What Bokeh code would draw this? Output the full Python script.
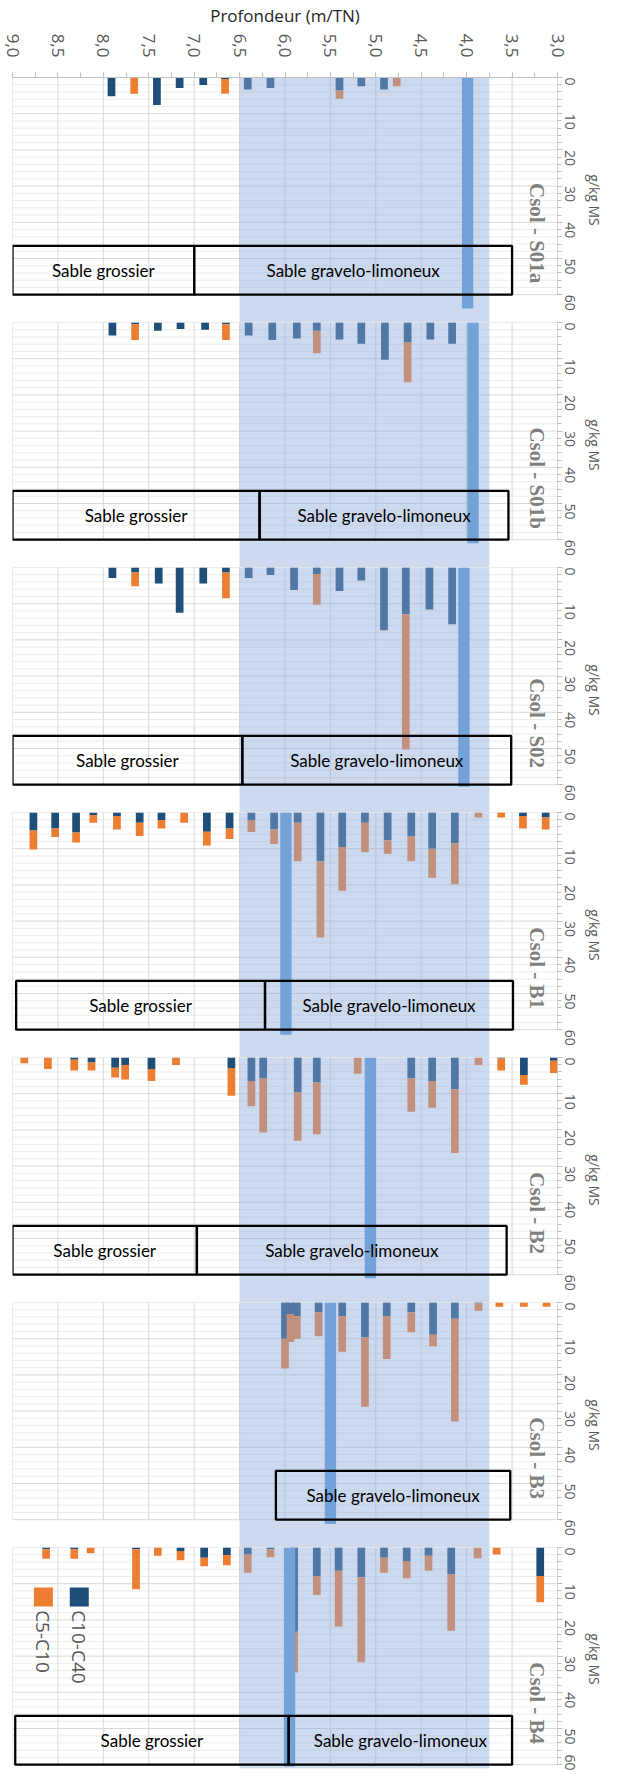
import math
from bokeh.plotting import figure
from bokeh.layouts import column
from bokeh.models import Range1d, FixedTicker, ColumnDataSource
from bokeh.core.properties import value
from bokeh.embed import file_html
from bokeh.resources import INLINE

# ---------------- data ----------------
panel_names = ["Csol - S01a", "Csol - S01b", "Csol - S02", "Csol - B1",
               "Csol - B2", "Csol - B3", "Csol - B4"]
depth_ticks = [9.0, 8.5, 8.0, 7.5, 7.0, 6.5, 6.0, 5.5, 5.0, 4.5, 4.0, 3.5, 3.0]
depth_tick_labels = ["9,0", "8,5", "8,0", "7,5", "7,0", "6,5", "6,0",
                     "5,5", "5,0", "4,5", "4,0", "3,5", "3,0"]
conc_ticks = [0, 10, 20, 30, 40, 50, 60]
conc_tick_labels = ["0", "10", "20", "30", "40", "50", "60"]
series_names = ["C5-C10", "C10-C40"]

s01a_depth = [7.91, 7.66, 7.41, 7.16, 6.90, 6.66, 6.41, 6.16, 5.40, 5.16, 4.91, 4.77]
s01a_c10c40 = [5.2, 0.0, 7.6, 2.9, 2.1, 0.4, 3.3, 2.9, 3.6, 2.4, 3.3, 0.0]
s01a_c5c10 = [0.0, 4.5, 0.0, 0.0, 0.0, 4.1, 0.0, 0.0, 2.3, 0.0, 0.0, 2.4]

s01b_depth = [7.90, 7.65, 7.40, 7.15, 6.88, 6.65, 6.40, 6.14, 5.87, 5.65, 5.40, 5.16, 4.90, 4.65, 4.40, 4.16]
s01b_c10c40 = [3.6, 0.5, 2.3, 1.8, 2.0, 0.5, 3.6, 4.8, 4.4, 2.3, 4.7, 5.9, 10.3, 5.5, 4.7, 5.9]
s01b_c5c10 = [0.0, 4.3, 0.0, 0.0, 0.0, 4.3, 0.0, 0.0, 0.0, 6.2, 0.0, 0.0, 0.0, 11.0, 0.0, 0.0]

s02_depth = [7.90, 7.65, 7.39, 7.16, 6.90, 6.65, 6.40, 6.16, 5.90, 5.65, 5.40, 5.16, 4.91, 4.67, 4.41, 4.16]
s02_c10c40 = [2.9, 1.4, 4.4, 12.5, 4.4, 1.4, 2.9, 2.1, 6.2, 1.8, 6.5, 3.6, 17.3, 12.9, 11.6, 15.7]
s02_c5c10 = [0.0, 3.8, 0.0, 0.0, 0.0, 7.1, 0.0, 0.0, 0.0, 8.5, 0.0, 0.0, 0.0, 37.4, 0.0, 0.0]

b1_depth = [8.77, 8.53, 8.30, 8.11, 7.85, 7.60, 7.36, 7.11, 6.86, 6.61, 6.37, 6.12,
            5.86, 5.61, 5.37, 5.12, 4.87, 4.61, 4.38, 4.13, 3.87, 3.62, 3.38, 3.13]
b1_c10c40 = [5.0, 4.4, 5.5, 0.7, 1.0, 2.8, 2.1, 0.0, 5.3, 4.4, 2.1, 4.6,
             2.8, 13.5, 9.5, 2.8, 7.7, 6.6, 10.0, 8.5, 0.0, 0.0, 1.0, 1.4]
b1_c5c10 = [5.2, 2.4, 2.8, 2.1, 3.7, 3.7, 2.3, 2.8, 3.8, 2.9, 3.3, 4.1,
            10.7, 21.0, 12.1, 8.2, 3.7, 6.9, 8.0, 11.3, 1.4, 1.4, 3.4, 3.3]

b2_depth = [8.87, 8.61, 8.32, 8.13, 7.87, 7.76, 7.47, 7.20, 6.59, 6.37, 6.24, 5.86,
            5.65, 5.20, 4.61, 4.38, 4.13, 3.87, 3.62, 3.37, 3.04]
b2_c10c40 = [0.0, 0.0, 0.6, 1.4, 2.8, 2.1, 3.2, 0.0, 2.9, 6.5, 5.8, 9.7,
             6.9, 0.0, 5.8, 6.5, 8.8, 0.0, 0.3, 4.8, 0.9]
b2_c5c10 = [1.6, 3.2, 3.0, 2.2, 2.7, 4.0, 3.3, 2.1, 7.7, 7.0, 14.9, 13.3,
            14.3, 4.5, 9.2, 7.4, 17.6, 2.1, 3.3, 2.7, 3.4]

b3_depth = [6.00, 5.94, 5.87, 5.63, 5.37, 5.12, 4.88, 4.61, 4.37, 4.13, 3.87, 3.64, 3.37, 3.12]
b3_c10c40 = [10.0, 3.2, 3.8, 2.7, 3.8, 9.7, 3.8, 2.7, 8.9, 4.5, 0.3, 0.0, 0.0, 0.0]
b3_c5c10 = [8.2, 7.7, 6.2, 6.6, 9.8, 19.1, 11.8, 5.5, 3.2, 28.4, 2.0, 1.2, 1.2, 1.2]

b4_depth = [8.63, 8.32, 8.14, 7.64, 7.40, 7.15, 6.89, 6.64, 6.41, 6.16, 5.90, 5.65,
            5.41, 5.16, 4.91, 4.66, 4.42, 4.17, 3.88, 3.67, 3.19]
b4_c10c40 = [0.5, 0.5, 0.0, 0.5, 0.0, 1.0, 2.8, 2.1, 1.9, 0.5, 23.3, 7.9,
             6.4, 8.2, 2.8, 3.7, 2.3, 7.4, 0.0, 0.0, 7.9]
b4_c5c10 = [2.6, 2.6, 1.6, 11.0, 2.3, 2.5, 2.4, 2.8, 5.1, 2.2, 11.2, 5.2,
            15.4, 23.5, 4.2, 4.8, 4.1, 15.6, 3.0, 1.9, 7.2]

# water table (nappe) depth per panel and length of its bar
water_depth = [3.99, 3.93, 4.03, 5.99, 5.06, 5.50, 5.95]
water_len = [63.8, 61.0, 60.6, 61.4, 61.0, 61.2, 60.5]

# shaded saturated zone
band_from = 6.5
band_to = 3.75

# lithology per panel: (name, from depth, to depth)
s01a_layers = [("Sable grossier", 9.0, 7.0), ("Sable gravelo-limoneux", 7.0, 3.5)]
s01b_layers = [("Sable grossier", 9.0, 6.28), ("Sable gravelo-limoneux", 6.28, 3.54)]
s02_layers = [("Sable grossier", 9.0, 6.47), ("Sable gravelo-limoneux", 6.47, 3.51)]
b1_layers = [("Sable grossier", 8.96, 6.22), ("Sable gravelo-limoneux", 6.22, 3.49)]
b2_layers = [("Sable grossier", 9.0, 6.97), ("Sable gravelo-limoneux", 6.97, 3.56)]
b3_layers = [("Sable gravelo-limoneux", 6.10, 3.52)]
b4_layers = [("Sable grossier", 8.97, 5.96), ("Sable gravelo-limoneux", 5.96, 3.50)]

panels = [
    (s01a_depth, s01a_c10c40, s01a_c5c10, s01a_layers),
    (s01b_depth, s01b_c10c40, s01b_c5c10, s01b_layers),
    (s02_depth, s02_c10c40, s02_c5c10, s02_layers),
    (b1_depth, b1_c10c40, b1_c5c10, b1_layers),
    (b2_depth, b2_c10c40, b2_c5c10, b2_layers),
    (b3_depth, b3_c10c40, b3_c5c10, b3_layers),
    (b4_depth, b4_c10c40, b4_c5c10, b4_layers),
]

# ---------------- layout / style ----------------
C_BLUE = "#1f4e79"
C_ORANGE = "#ed7d31"
C_WATER = "#5b9bd5"
C_BAND = "#8faadc"
GRID = "#d9d9d9"
GRID_MINOR = "#ededed"
AXIS = "#bfbfbf"
TXT = "#595959"

KPX = 3.62           # pixels per g/kg
PANEL_PX = 245       # vertical period of the panels
LAST_PX = 223
TOP_PX = 72
NP = len(panel_names)
x_range = Range1d(9.0, 3.0)

figs = []
for i, (dep, c1040, c510, layers) in enumerate(panels):
    first = i == 0
    last = i == NP - 1
    fh = LAST_PX if last else PANEL_PX
    yend = fh / KPX
    p = figure(frame_width=545, frame_height=fh,
               x_range=x_range, y_range=Range1d(yend, 0),
               x_axis_location="above" if first else None,
               y_axis_location="right",
               output_backend="svg", toolbar_location=None,
               min_border_left=12, min_border_right=46,
               min_border_top=TOP_PX if first else 0,
               min_border_bottom=0)
    p.outline_line_color = None
    p.xgrid.visible = False
    p.ygrid.visible = False

    if first:
        xa = p.xaxis[0]
        xa.ticker = FixedTicker(ticks=depth_ticks,
                                minor_ticks=[9.0 - 0.25 * k for k in range(25)])
        xa.major_label_overrides = dict(zip(depth_ticks, depth_tick_labels))
        xa.major_label_orientation = -math.pi / 2
        xa.major_label_text_font = "Open Sans"
        xa.major_label_text_font_size = "17px"
        xa.major_label_text_color = TXT
        xa.major_label_standoff = 15
        xa.axis_label = "Profondeur (m/TN)"
        xa.axis_label_text_font = "Open Sans"
        xa.axis_label_text_font_style = "normal"
        xa.axis_label_text_font_size = "17px"
        xa.axis_label_text_color = "#262626"
        xa.axis_label_standoff = 4
        xa.axis_line_color = AXIS
        xa.major_tick_line_color = AXIS
        xa.minor_tick_line_color = AXIS
        xa.major_tick_out = 5
        xa.major_tick_in = 0
        xa.minor_tick_out = 5
        xa.minor_tick_in = 0

    ya = p.yaxis[0]
    ya.ticker = FixedTicker(ticks=conc_ticks, minor_ticks=list(range(0, 61, 2)))
    ya.major_label_overrides = dict(zip(conc_ticks, conc_tick_labels))
    ya.major_label_orientation = -math.pi / 2
    ya.major_label_text_font = "Open Sans"
    ya.major_label_text_font_size = "14px"
    ya.major_label_text_color = TXT
    ya.major_label_standoff = 7
    ya.axis_line_color = None
    ya.major_tick_line_color = AXIS
    ya.minor_tick_line_color = AXIS
    ya.major_tick_out = 5
    ya.major_tick_in = 0
    ya.minor_tick_out = 4
    ya.minor_tick_in = 0
    ya.axis_label = "g/kg MS"
    ya.axis_label_text_font = "Open Sans"
    ya.axis_label_text_font_style = "normal"
    ya.axis_label_text_font_size = "14px"
    ya.axis_label_text_color = TXT
    ya.axis_label_standoff = 2

    # grid lines (only over the 0-60 part of the panel)
    gx0, gy0, gx1, gy1, gcol = [], [], [], [], []
    for m in range(2, 61, 2):
        if m % 10:
            gx0.append(9.0); gx1.append(3.0); gy0.append(m); gy1.append(m); gcol.append(GRID_MINOR)
    for m in conc_ticks:
        gx0.append(9.0); gx1.append(3.0); gy0.append(m); gy1.append(m); gcol.append(GRID)
    for t in depth_ticks:
        gx0.append(t); gx1.append(t); gy0.append(0); gy1.append(60); gcol.append(GRID)
    gx0.append(3.0); gx1.append(3.0); gy0.append(0); gy1.append(60); gcol.append(AXIS)
    p.segment(x0=gx0, y0=gy0, x1=gx1, y1=gy1, line_color=gcol, line_width=1)

    # stacked bars: C10-C40 from 0, then C5-C10 below it
    src = ColumnDataSource(dict(
        x=dep,
        bt=[0.0] * len(dep),
        bb=list(c1040),
        ob=[a + b for a, b in zip(c1040, c510)],
    ))
    p.vbar(x="x", width=0.085, top="bt", bottom="bb", source=src,
           fill_color=C_BLUE, line_color=None)
    p.vbar(x="x", width=0.085, top="bb", bottom="ob", source=src,
           fill_color=C_ORANGE, line_color=None)

    # water table
    p.vbar(x=[water_depth[i]], width=0.125, top=[0], bottom=[water_len[i]],
           fill_color=C_WATER, line_color=None)

    # saturated-zone band (continuous through the gaps)
    p.quad(left=[band_from], right=[band_to], top=[0],
           bottom=[61.0 if last else yend],
           fill_color=C_BAND, fill_alpha=0.45, line_color=None)

    # lithology boxes
    p.quad(left=[l[1] for l in layers], right=[l[2] for l in layers],
           top=[46.5] * len(layers), bottom=[60.0] * len(layers),
           fill_alpha=0, line_color="black", line_width=2.3)
    p.text(x=[(l[1] + l[2]) / 2 for l in layers], y=[53.3] * len(layers),
           text=[l[0] for l in layers], text_align="center", text_baseline="middle",
           text_font=value("Lato"), text_font_size="17px", text_color="black")

    # panel title
    p.text(x=[3.23], y=[43.0], text=[panel_names[i]], angle=-math.pi / 2,
           text_align="center", text_baseline="middle",
           text_font=value("Liberation Serif"), text_font_style="bold",
           text_font_size="21px", text_color="#7f7f7f")

    if last:
        p.scatter(x=[8.66, 8.265], y=[13.7, 13.7], marker="square", size=19,
                  fill_color=[C_ORANGE, C_BLUE], line_color=None)
        p.text(x=[8.66, 8.265], y=[17.3, 17.3], text=series_names, angle=-math.pi / 2,
               text_align="left", text_baseline="middle", text_font=value("Open Sans"),
               text_font_size="19px", text_color=TXT)
    figs.append(p)

layout = column(*figs, spacing=0)
open("out.html", "w").write(file_html(layout, INLINE))
